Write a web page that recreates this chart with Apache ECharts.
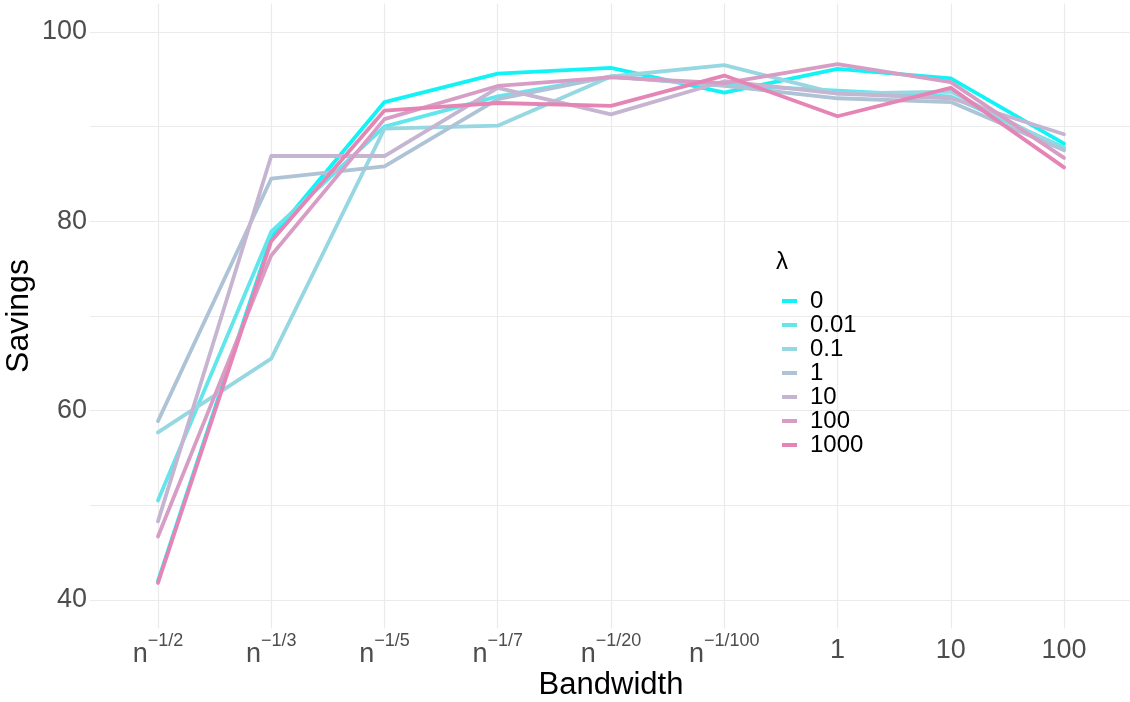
<!DOCTYPE html>
<html>
<head>
<meta charset="utf-8">
<script src="https://cdn.jsdelivr.net/npm/echarts@6/dist/echarts.min.js"></script>
<style>
  html, body { margin: 0; padding: 0; background: #ffffff; }
  #chart { width: 1130px; height: 702px; }
</style>
</head>
<body>
<div id="chart"></div>
<script>
// Bandwidth choices along the x axis ("n^{...}" means n raised to that exponent)
const bandwidths = ['n^{−1/2}', 'n^{−1/3}', 'n^{−1/5}', 'n^{−1/7}', 'n^{−1/20}', 'n^{−1/100}', '1', '10', '100'];

// Regularisation strengths, one line each
const lambdas = ['0', '0.01', '0.1', '1', '10', '100', '1000'];

// Savings for each lambda, one value per bandwidth
const savingsL0     = [42.0, 78.3, 92.6, 95.6, 96.2, 93.6, 96.1, 95.1, 88.2];
const savingsL0_01  = [50.5, 78.9, 90.0, 93.2, 95.3, 94.4, 93.8, 93.2, 87.8];
const savingsL0_1   = [57.7, 65.5, 89.8, 90.1, 95.3, 96.5, 93.5, 93.7, 87.6];
const savingsL1     = [58.9, 84.5, 85.8, 92.9, 95.3, 94.3, 93.0, 92.6, 87.5];
const savingsL10    = [48.3, 86.9, 86.9, 94.1, 91.3, 94.8, 93.5, 93.0, 89.2];
const savingsL100   = [46.7, 76.4, 90.8, 94.3, 95.2, 94.6, 96.6, 94.7, 86.7];
const savingsL1000  = [41.8, 77.9, 91.7, 92.5, 92.2, 95.4, 91.1, 94.1, 85.7];

const savingsByLambda = [savingsL0, savingsL0_01, savingsL0_1, savingsL1, savingsL10, savingsL100, savingsL1000];

// Cyan-to-pink colour ramp over lambda
const lineColors = ['#12F3F6', '#62E6EC', '#96D7E1', '#AEC3D6', '#C5B5D1', '#D89DC5', '#E585B5'];

const series = lambdas.map((name, k) => ({
  name: name,
  type: 'line',
  data: savingsByLambda[k].map((v, i) => [i, v]),
  showSymbol: false,
  symbol: 'none',
  lineStyle: { width: 3.8, color: lineColors[k], cap: 'round', join: 'round' },
  itemStyle: { color: lineColors[k] },
  emphasis: { disabled: true },
  animation: false
}));

function bandwidthLabel(v) {
  if (Math.abs(v - Math.round(v)) > 1e-6) return '';
  const i = Math.round(v);
  if (i < 0 || i >= bandwidths.length) return '';
  const lab = bandwidths[i];
  const m = lab.match(/^n\^\{(.*)\}$/);
  if (m) return '{n|n}{s|' + m[1] + '}';
  return '{v|' + lab + '}';
}

const chart = echarts.init(document.getElementById('chart'), null, { renderer: 'canvas' });
chart.setOption({
  backgroundColor: '#ffffff',
  animation: false,
  textStyle: { fontFamily: 'Liberation Sans, Arial, sans-serif' },
  title: {
    text: 'λ',
    left: 771,
    top: 245,
    textStyle: { fontSize: 24, fontWeight: 'normal', color: '#000000', fontFamily: 'Liberation Sans, Arial, sans-serif' }
  },
  legend: {
    data: lambdas,
    orient: 'vertical',
    left: 777,
    top: 284,
    itemWidth: 15,
    itemHeight: 4,
    itemGap: 0,
    icon: 'rect',
    selectedMode: false,
    textStyle: { fontSize: 24, lineHeight: 23.8, color: '#000000', padding: [0, 0, 0, 8] }
  },
  grid: { left: 90, top: 3.6, width: 1042, height: 624.8, containLabel: false, outerBoundsMode: 'none' },
  xAxis: {
    type: 'value',
    min: -0.6,
    max: 8.6,
    minInterval: 1,
    maxInterval: 1,
    splitNumber: 9,
    name: 'Bandwidth',
    nameLocation: 'middle',
    nameGap: 42,
    nameMoveOverlap: false,
    nameTextStyle: { fontSize: 31, color: '#000000', verticalAlign: 'top' },
    axisLine: { show: false },
    axisTick: { show: false },
    axisLabel: {
      showMinLabel: false,
      showMaxLabel: false,
      margin: 4,
      color: '#4D4D4D',
      formatter: bandwidthLabel,
      rich: {
        n: { fontSize: 27, color: '#4D4D4D', lineHeight: 36, verticalAlign: 'bottom' },
        s: { fontSize: 18, color: '#4D4D4D', verticalAlign: 'top' },
        v: { fontSize: 27, color: '#4D4D4D', lineHeight: 36, verticalAlign: 'middle' }
      }
    },
    splitLine: { show: true, showMinLine: false, showMaxLine: false, lineStyle: { color: '#EBEBEB', width: 1.2 } }
  },
  yAxis: {
    type: 'value',
    min: 37,
    max: 103,
    minInterval: 10,
    maxInterval: 10,
    splitNumber: 7,
    name: 'Savings',
    nameLocation: 'middle',
    nameRotate: 90,
    nameGap: 55,
    nameMoveOverlap: false,
    nameTextStyle: { fontSize: 32, color: '#000000' },
    axisLine: { show: false },
    axisTick: { show: false },
    axisLabel: {
      showMinLabel: false,
      showMaxLabel: false,
      margin: 3,
      fontSize: 27,
      color: '#4D4D4D',
      formatter: v => (Math.round(v) % 20 === 0 ? String(Math.round(v)) : '')
    },
    splitLine: { show: true, showMinLine: false, showMaxLine: false, lineStyle: { color: '#EBEBEB', width: 1.2 } }
  },
  series: series
});
</script>
</body>
</html>
